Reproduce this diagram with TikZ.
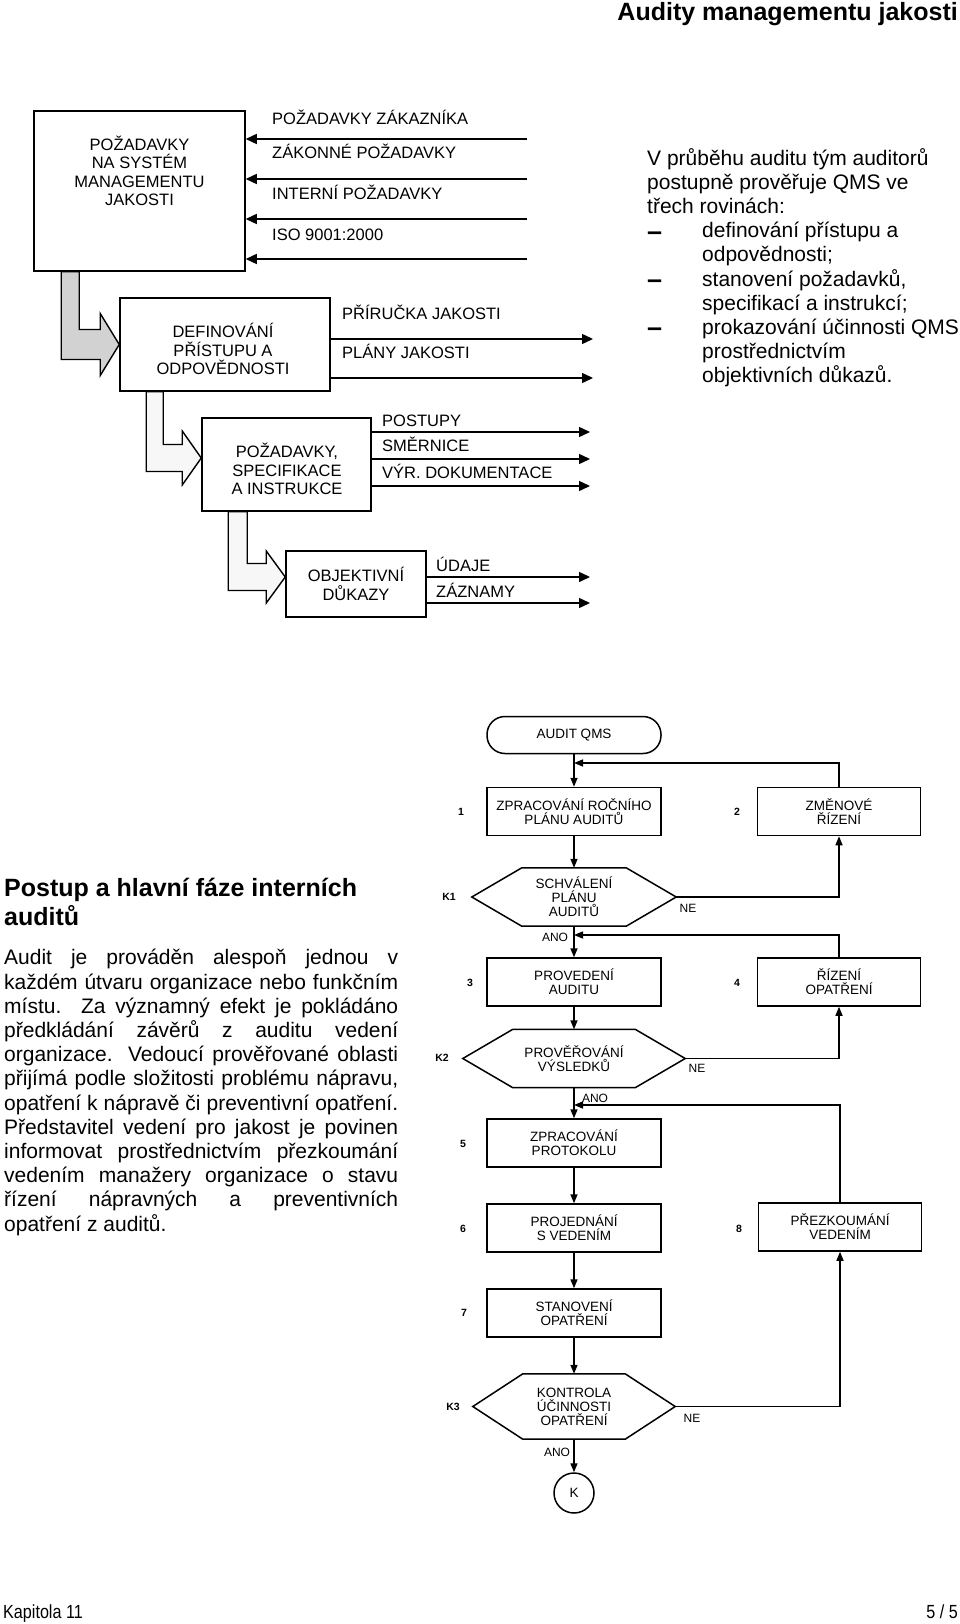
\documentclass[tikz,border=0pt]{standalone}
\usepackage{fontspec}
\setmainfont{Liberation Sans}
\newfontfamily\footfont[FakeStretch=0.85]{Liberation Sans}
\usetikzlibrary{calc,arrows.meta}

\newcommand{\fatarrow}[8]{%
	\filldraw[fat, fill=#8] let \p1=(#1.south west), \p2=(#2.west) in
		(\x1+#3pt,\y1) -- (\x1+#3pt,\y2+#5pt-#6pt) -- (\x2-19pt,\y2+#5pt-#6pt)
		-- (\x2-19pt,\y2+#5pt-#7pt) -- (\x2,\y2+#5pt) -- (\x2-19pt,\y2+#5pt+#7pt)
		-- (\x2-19pt,\y2+#5pt+#6pt) -- (\x1+#3pt+#4pt,\y2+#5pt+#6pt) -- (\x1+#3pt+#4pt,\y1) -- cycle;}
\newcommand{\decoutline}[1]{%
	\draw[line width=1.5pt] (#1.west) -- ($(#1.north west)+(50,0)$) -- ($(#1.north east)+(-50,0)$)
		-- (#1.east) -- ($(#1.south east)+(-50,0)$) -- ($(#1.south west)+(50,0)$) -- cycle;}
\newcommand{\itemdash}{\makebox[55pt][l]{\raisebox{-2.5pt}{\bfseries\fontsize{27}{24.2}\selectfont –}}}

\begin{document}
\begin{tikzpicture}[x=1pt,y=1pt,
		qbox/.style={draw, line width=1.5pt, inner sep=0pt, align=center, font=\fontsize{16.5}{18.5}\selectfont},
		qtext/.style={inner sep=0pt, align=center, font=\fontsize{16.5}{18.5}\selectfont},
		lbl/.style={anchor=base west, inner sep=0pt, font=\fontsize{16.5}{18.5}\selectfont},
		arr/.style={line width=1.4pt, -{Triangle[length=11pt,width=10pt]}},
		fat/.style={line width=1.4pt},
		fl/.style={draw, line width=1.5pt, inner sep=0pt, align=center, font=\fontsize{13.5}{14}\selectfont},
		fbox/.style={fl, minimum width=174pt, minimum height=48pt},
		rbox/.style={fl, minimum width=163pt, minimum height=48pt},
		dec/.style={inner sep=0pt, align=center, font=\fontsize{13.5}{14}\selectfont},
		num/.style={inner sep=0pt, font=\bfseries\fontsize{10.5}{12}\selectfont},
		yn/.style={inner sep=0pt, font=\fontsize{12}{14}\selectfont},
		farr/.style={line width=1.5pt, -{Triangle[length=9pt,width=7pt]}},
		para/.style={inner sep=0pt, align=left, anchor=base west, font=\fontsize{21}{24.2}\selectfont}]
	\useasboundingbox (0,0) rectangle (960,-1624);

	\node[anchor=base east, inner sep=0pt, font=\bfseries\fontsize{25}{29}\selectfont] (title) at (958,-21) {Audity managementu jakosti};

	% levels of the QMS
	\node[qbox, minimum width=211pt, minimum height=160pt] (req) at (139.5,-191) {};
	\node[qtext] (reqtxt) at (139.5,-171) {POŽADAVKY\\NA SYSTÉM\\MANAGEMENTU\\JAKOSTI};
	\node[qbox, minimum width=210pt, minimum height=93pt] (def) at (225,-344.5) {};
	\node[qtext] (deftxt) at (223,-349) {DEFINOVÁNÍ\\PŘÍSTUPU A\\ODPOVĚDNOSTI};
	\node[qbox, minimum width=169pt, minimum height=93pt] (spec) at (286.5,-464.5) {};
	\node[qtext] (spectxt) at (287,-469) {POŽADAVKY,\\SPECIFIKACE\\A INSTRUKCE};
	\node[qbox, minimum width=140pt, minimum height=66pt] (evid) at (356,-584) {OBJEKTIVNÍ\\DŮKAZY};

	\foreach \ly/\bl/\txt [count=\i] in {139/125/POŽADAVKY ZÁKAZNÍKA,179/159/ZÁKONNÉ POŽADAVKY,219/200/INTERNÍ POŽADAVKY,259/240/ISO 9001:2000} {
		\coordinate (in\i) at (527,-\ly);
		\draw[arr] (in\i) -- (in\i -| req.east);
		\node[lbl] (inlbl\i) at (272,-\bl) {\txt};
	}
	\foreach \ly/\bl/\txt [count=\i] in {339/319/PŘÍRUČKA JAKOSTI,378/358/PLÁNY JAKOSTI} {
		\coordinate (defout\i) at (593,-\ly);
		\draw[arr] (defout\i -| def.east) -- (defout\i);
		\node[lbl] (deflbl\i) at (342,-\bl) {\txt};
	}
	\foreach \ly/\bl/\txt [count=\i] in {432/426/POSTUPY,459/451/SMĚRNICE,486/478/VÝR. DOKUMENTACE} {
		\coordinate (specout\i) at (590,-\ly);
		\draw[arr] (specout\i -| spec.east) -- (specout\i);
		\node[lbl] (speclbl\i) at (382,-\bl) {\txt};
	}
	\foreach \ly/\bl/\txt [count=\i] in {577/571/ÚDAJE,603/597/ZÁZNAMY} {
		\coordinate (evidout\i) at (590,-\ly);
		\draw[arr] (evidout\i -| evid.east) -- (evidout\i);
		\node[lbl] (evidlbl\i) at (436,-\bl) {\txt};
	}

	\fatarrow{req}{def}{28}{18}{0}{15}{31}{gray!35}
	\fatarrow{def}{spec}{27}{17}{6.5}{13.5}{27}{gray!6}
	\fatarrow{spec}{evid}{27}{19}{7}{13.5}{26}{gray!6}

	% base of the last line
	\node[para] (levels) at (647,-382.8) {V průběhu auditu tým auditorů\\
		postupně prověřuje QMS ve\\
		třech rovinách:\\
		\itemdash definování přístupu a\\
		\hspace*{55pt}odpovědnosti;\\
		\itemdash stanovení požadavků,\\
		\hspace*{55pt}specifikací a instrukcí;\\
		\itemdash prokazování účinnosti QMS\\
		\hspace*{55pt}prostřednictvím\\
		\hspace*{55pt}objektivních důkazů.};

	% internal audits
	\node[para, font=\bfseries\fontsize{25}{29}\selectfont] (phases) at (4,-925) {Postup a hlavní fáze interních\\auditů};
	\node[para] (about) at (4,-1231) {\makebox[394pt][s]{Audit je prováděn alespoň jednou v}\\
		\makebox[394pt][s]{každém útvaru organizace nebo funkčním}\\
		\makebox[394pt][s]{místu. Za významný efekt je pokládáno}\\
		\makebox[394pt][s]{předkládání závěrů z auditu vedení}\\
		\makebox[394pt][s]{organizace. Vedoucí prověřované oblasti}\\
		\makebox[394pt][s]{přijímá podle složitosti problému nápravu,}\\
		\makebox[394pt][s]{opatření k nápravě či preventivní opatření.}\\
		\makebox[394pt][s]{Představitel vedení pro jakost je povinen}\\
		\makebox[394pt][s]{informovat prostřednictvím přezkoumání}\\
		\makebox[394pt][s]{vedením manažery organizace o stavu}\\
		\makebox[394pt][s]{řízení nápravných a preventivních}\\
		opatření z auditů.};

	\node[fl, rounded corners=18pt, minimum width=174pt, minimum height=37pt] (audit) at (574,-735) {AUDIT QMS};
	\node[fbox] (plan) at (574,-811.5) {ZPRACOVÁNÍ ROČNÍHO\\PLÁNU AUDITŮ};
	\node[rbox] (chg) at (839,-811.5) {ZMĚNOVÉ\\ŘÍZENÍ};
	\node[dec, minimum width=204pt, minimum height=58pt] (k1) at (574,-897) {SCHVÁLENÍ\\PLÁNU\\AUDITŮ};
	\node[fbox] (exe) at (574,-982) {PROVEDENÍ\\AUDITU};
	\node[rbox] (act) at (839,-982) {ŘÍZENÍ\\OPATŘENÍ};
	\node[dec, minimum width=222pt, minimum height=58pt] (k2) at (574,-1058.5) {PROVĚŘOVÁNÍ\\VÝSLEDKŮ};
	\node[fbox] (rep) at (574,-1143) {ZPRACOVÁNÍ\\PROTOKOLU};
	\node[fbox] (mgmt) at (574,-1228) {PROJEDNÁNÍ\\S VEDENÍM};
	\node[rbox] (rev) at (840,-1227) {PŘEZKOUMÁNÍ\\VEDENÍM};
	\node[fbox] (meas) at (574,-1313) {STANOVENÍ\\OPATŘENÍ};
	\node[dec, minimum width=202pt, minimum height=65pt] (k3) at (574,-1406.5) {KONTROLA\\ÚČINNOSTI\\OPATŘENÍ};
	\node[fl, circle, minimum size=40pt] (end) at (574,-1493) {K};
	\decoutline{k1}
	\decoutline{k2}
	\decoutline{k3}

	\node[num] (n1) at (461,-812) {1};
	\node[num] (n2) at (737,-812) {2};
	\node[num] (n3) at (470,-983) {3};
	\node[num] (n4) at (737,-983) {4};
	\node[num] (n5) at (463,-1144) {5};
	\node[num] (n6) at (463,-1229) {6};
	\node[num] (n7) at (464,-1313) {7};
	\node[num] (n8) at (739,-1229) {8};
	\node[num] (nk1) at (449,-897) {K1};
	\node[num] (nk2) at (442,-1058) {K2};
	\node[num] (nk3) at (453,-1407) {K3};

	\node[yn] (ne1) at (688,-908) {NE};
	\node[yn] (ano1) at (555,-937) {ANO};
	\node[yn] (ne2) at (697,-1068) {NE};
	\node[yn] (ano2) at (595,-1098) {ANO};
	\node[yn] (ne3) at (692,-1418) {NE};
	\node[yn] (ano3) at (557,-1452) {ANO};

	\coordinate (j1) at (574,-763);
	\coordinate (j2) at (574,-935);
	\coordinate (j3) at (574,-1105);

	\draw[farr] (audit) -- (plan);
	\draw[farr] (plan) -- (k1);
	\draw[farr] (k1.east) -| (chg.south);
	\draw[farr] (chg.north) |- (j1);
	\draw[farr] (k1) -- (exe);
	\draw[farr] (exe) -- (k2);
	\draw[farr] (k2.east) -| (act.south);
	\draw[farr] (act.north) |- (j2);
	\draw[farr] (k2) -- (rep);
	\draw[farr] (rep) -- (mgmt);
	\draw[farr] (mgmt) -- (meas);
	\draw[farr] (meas) -- (k3);
	\draw[farr] (k3) -- (end);
	\draw[farr] (k3.east) -| (rev.south);
	\draw[farr] (rev.north) |- (j3);

	\node[anchor=base west, inner sep=0pt, font=\footfont\fontsize{19}{22}\selectfont] (chapter) at (3,-1618) {Kapitola 11};
	\node[anchor=base east, inner sep=0pt, font=\footfont\fontsize{19}{22}\selectfont] (page) at (958,-1618) {5 / 5};
\end{tikzpicture}
\end{document}
